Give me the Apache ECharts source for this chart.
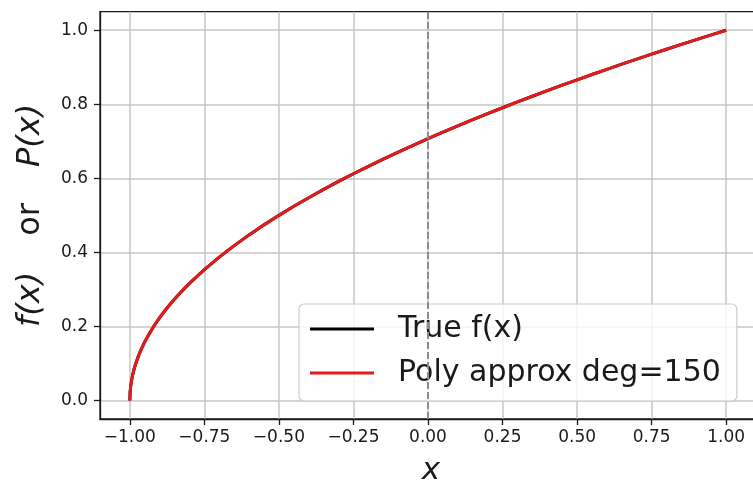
<!DOCTYPE html>
<html>
<head>
<meta charset="utf-8">
<script src="https://cdn.jsdelivr.net/npm/echarts@6/dist/echarts.min.js"></script>
<style>
html,body{margin:0;padding:0;background:#fff;}
#chart{width:753px;height:485px;}
</style>
</head>
<body>
<div id="chart"></div>
<script>
// x sample positions and curve values
const xValues = [-1.0, -0.999, -0.997, -0.995, -0.99, -0.985, -0.98, -0.97, -0.96, -0.95, -0.94, -0.92, -0.9, -0.88, -0.86, -0.84, -0.82, -0.8, -0.75, -0.7, -0.65, -0.6, -0.55, -0.5, -0.45, -0.4, -0.35, -0.3, -0.25, -0.2, -0.15, -0.1, -0.05, 0.0, 0.05, 0.1, 0.15, 0.2, 0.25, 0.3, 0.35, 0.4, 0.45, 0.5, 0.55, 0.6, 0.65, 0.7, 0.75, 0.8, 0.85, 0.9, 0.95, 1.0];
const trueValues = [0.0, 0.0224, 0.0387, 0.05, 0.0707, 0.0866, 0.1, 0.1225, 0.1414, 0.1581, 0.1732, 0.2, 0.2236, 0.245, 0.2646, 0.2828, 0.3, 0.3162, 0.3536, 0.3873, 0.4183, 0.4472, 0.4743, 0.5, 0.5244, 0.5477, 0.5701, 0.5916, 0.6124, 0.6325, 0.6519, 0.6708, 0.6892, 0.7071, 0.7246, 0.7416, 0.7583, 0.7746, 0.7906, 0.8062, 0.8216, 0.8367, 0.8515, 0.866, 0.8803, 0.8944, 0.9083, 0.922, 0.9354, 0.9487, 0.9618, 0.9747, 0.9874, 1.0];
const polyValues = [0.0, 0.0224, 0.0387, 0.05, 0.0707, 0.0866, 0.1, 0.1225, 0.1414, 0.1581, 0.1732, 0.2, 0.2236, 0.245, 0.2646, 0.2828, 0.3, 0.3162, 0.3536, 0.3873, 0.4183, 0.4472, 0.4743, 0.5, 0.5244, 0.5477, 0.5701, 0.5916, 0.6124, 0.6325, 0.6519, 0.6708, 0.6892, 0.7071, 0.7246, 0.7416, 0.7583, 0.7746, 0.7906, 0.8062, 0.8216, 0.8367, 0.8515, 0.866, 0.8803, 0.8944, 0.9083, 0.922, 0.9354, 0.9487, 0.9618, 0.9747, 0.9874, 1.0];
const xTicks = [-1.0, -0.75, -0.5, -0.25, 0.0, 0.25, 0.5, 0.75, 1.0];
const yTicks = [0.0, 0.2, 0.4, 0.6, 0.8, 1.0];
const seriesNames = ['True f(x)', 'Poly approx deg=150'];
const refLineX = 0;

const FONT = 'DejaVu Sans';
const chart = echarts.init(document.getElementById('chart'), null, {renderer: 'canvas'});

const trueData = xValues.map((x, i) => [x, trueValues[i]]);
const polyData = xValues.map((x, i) => [x, polyValues[i]]);

const fmtX = v => (v < 0 ? '\u2212' : '') + Math.abs(v).toFixed(2);
const fmtY = v => (v < 0 ? '\u2212' : '') + Math.abs(v).toFixed(1);

const option = {
  animation: false,
  backgroundColor: '#ffffff',
  grid: {
    left: 100, right: -3, top: 11.7, bottom: 66,
    show: true, borderColor: '#1a1a1a', borderWidth: 1.3,
    outerBoundsMode: 'none', containLabel: false
  },
  xAxis: {
    type: 'value', min: -1.1, max: 1.1,
    axisLine: {show: true, onZero: false, lineStyle: {color: '#1a1a1a', width: 1.3}},
    axisTick: {show: true, customValues: xTicks, length: 6, lineStyle: {color: '#1a1a1a', width: 1.3}},
    axisLabel: {customValues: xTicks, formatter: fmtX, margin: 10, color: '#1a1a1a', fontFamily: FONT, fontSize: 17},
    splitLine: {show: true, lineStyle: {color: '#c6c6c6', width: 1.5}},
    name: 'x', nameLocation: 'middle', nameGap: 36,
    nameTextStyle: {fontFamily: FONT, fontSize: 31, fontStyle: 'italic', color: '#1a1a1a', padding: [0, 0, 0, 6]}
  },
  yAxis: {
    type: 'value', min: -0.05, max: 1.05,
    axisLine: {show: true, onZero: false, lineStyle: {color: '#1a1a1a', width: 1.3}},
    axisTick: {show: true, customValues: yTicks, length: 6, lineStyle: {color: '#1a1a1a', width: 1.3}},
    axisLabel: {customValues: yTicks, formatter: fmtY, margin: 12, color: '#1a1a1a', fontFamily: FONT, fontSize: 17},
    splitLine: {show: true, lineStyle: {color: '#c6c6c6', width: 1.5}},
    name: '{i|f(x)}{o|or}{i|P(x)}', nameLocation: 'middle', nameGap: 53, nameRotate: 90,
    nameTextStyle: {
      fontFamily: FONT, fontSize: 32, color: '#1a1a1a',
      rich: {
        i: {fontFamily: FONT, fontSize: 32, fontStyle: 'italic', color: '#1a1a1a'},
        o: {fontFamily: FONT, fontSize: 32, color: '#1a1a1a', padding: [0, 36, 0, 36]}
      }
    }
  },
  legend: {
    show: true, orient: 'vertical', left: 299, top: 304,
    padding: [10, 16, 13, 11],
    backgroundColor: 'rgba(255,255,255,0.8)', borderColor: '#cccccc', borderWidth: 1.2, borderRadius: 5,
    icon: 'rect', itemWidth: 64, itemHeight: 3, itemGap: 14,
    textStyle: {fontFamily: FONT, fontSize: 30, color: '#1a1a1a', padding: [0, 0, 0, 19]},
    data: seriesNames
  },
  series: [
    {
      name: seriesNames[0], type: 'line', data: trueData, symbol: 'none', showSymbol: false,
      lineStyle: {color: '#000000', width: 3}, itemStyle: {color: '#000000'}, z: 2,
      markLine: {
        silent: true, symbol: 'none', label: {show: false},
        lineStyle: {color: '#8c8c8c', width: 2, type: [7, 3]},
        data: [{xAxis: refLineX}]
      }
    },
    {
      name: seriesNames[1], type: 'line', data: polyData, symbol: 'none', showSymbol: false,
      lineStyle: {color: '#e41a1c', width: 3}, itemStyle: {color: '#e41a1c'}, z: 3
    }
  ]
};
chart.setOption(option);
</script>
</body>
</html>
